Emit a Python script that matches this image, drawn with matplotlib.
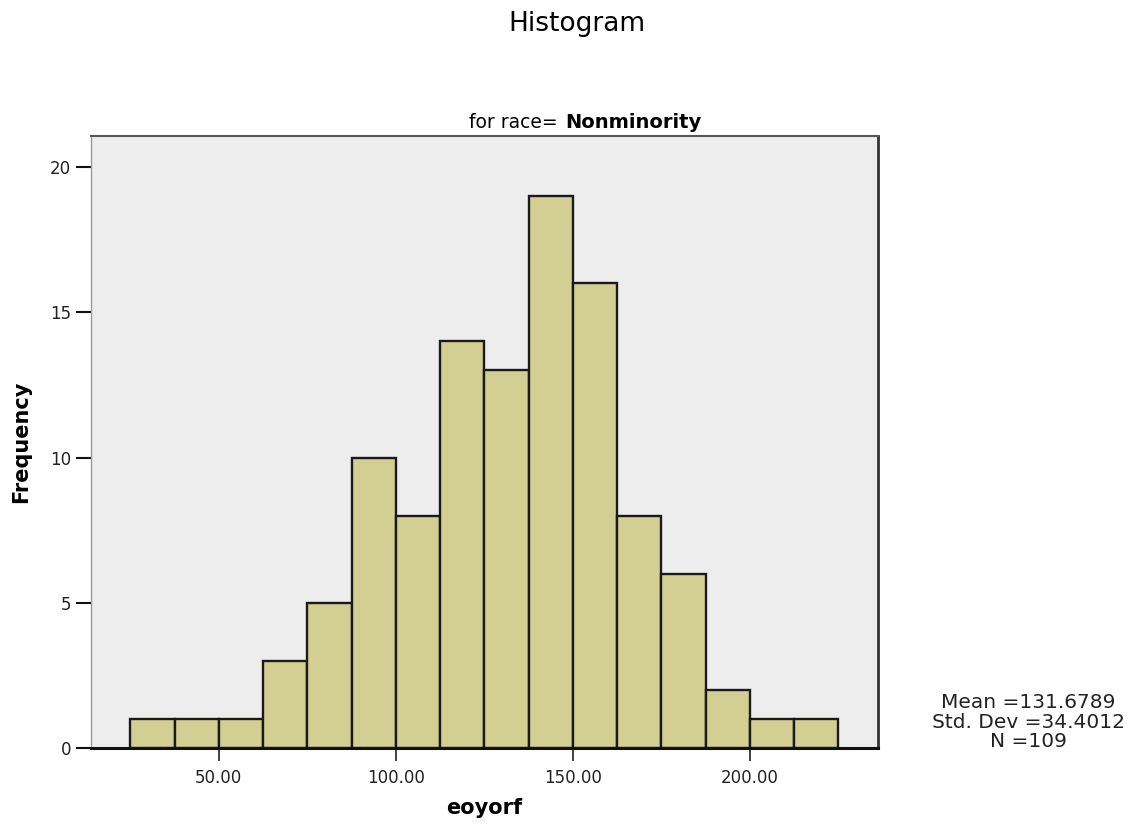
import numpy as np
import matplotlib
matplotlib.use("Agg")
import matplotlib.pyplot as plt

# histogram of eoyorf for race = Nonminority
bin_lefts = [25.0, 37.5, 50.0, 62.5, 75.0, 87.5, 100.0, 112.5,
             125.0, 137.5, 150.0, 162.5, 175.0, 187.5, 200.0, 212.5]
counts = [1, 1, 1, 3, 5, 10, 8, 14, 13, 19, 16, 8, 6, 2, 1, 1]
bin_width = 12.5

x_ticks = [50, 100, 150, 200]
x_ticklabels = ["50.00", "100.00", "150.00", "200.00"]
y_ticks = [0, 5, 10, 15, 20]

stats_text = "Mean =131.6789\nStd. Dev =34.4012\nN =109"

W, H = 1142, 836
fig = plt.figure(figsize=(W / 100, H / 100), dpi=100)
fig.patch.set_facecolor("white")

ax = fig.add_axes([90.7 / W, 1 - 748.3 / H, (878 - 90.7) / W, (748.3 - 135.7) / H])
ax.set_facecolor("#EDEDED")

ax.bar(bin_lefts, counts, width=bin_width, align="edge",
       color="#D3CE92", edgecolor="#1a1a1a", linewidth=1.7, zorder=2)

ax.set_xlim(13.8, 236.2)
ax.set_ylim(0, 21.07)

ax.set_xticks(x_ticks)
ax.set_xticklabels(x_ticklabels)
ax.set_yticks(y_ticks)

ax.tick_params(axis="x", direction="out", length=9, width=1.2,
               color="#222222", labelsize=12, pad=6, labelcolor="#222222")
ax.tick_params(axis="y", direction="out", length=11, width=1.5,
               color="#111111", labelsize=12, pad=3, labelcolor="#222222")

# frame like the SPSS chart
ax.spines["left"].set_color("#9a9a9a")
ax.spines["left"].set_linewidth(1.0)
ax.spines["top"].set_color("#555555")
ax.spines["top"].set_linewidth(1.5)
ax.spines["right"].set_color("#333333")
ax.spines["right"].set_linewidth(2.0)
ax.spines["bottom"].set_color("#111111")
ax.spines["bottom"].set_linewidth(2.2)
ax.spines["bottom"].set_zorder(3)

ax.set_ylabel("Frequency", fontsize=15, fontweight="bold", labelpad=14)
ax.set_xlabel("eoyorf", fontsize=15, fontweight="bold", labelpad=8)

# titles
fig.text(577 / W, 1 - 24 / H, "Histogram", ha="center", va="center", fontsize=19)
fig.text(558 / W, 1 - 122 / H, "for race=", ha="right", va="center", fontsize=13.5)
fig.text(565 / W, 1 - 122 / H, "Nonminority", ha="left", va="center",
         fontsize=14, fontweight="bold")

# summary statistics
fig.text(1028 / W, 1 - 722 / H, stats_text, ha="center", va="center",
         fontsize=14.5, linespacing=1.05, color="#222222")

fig.savefig("out.png", dpi=100)
